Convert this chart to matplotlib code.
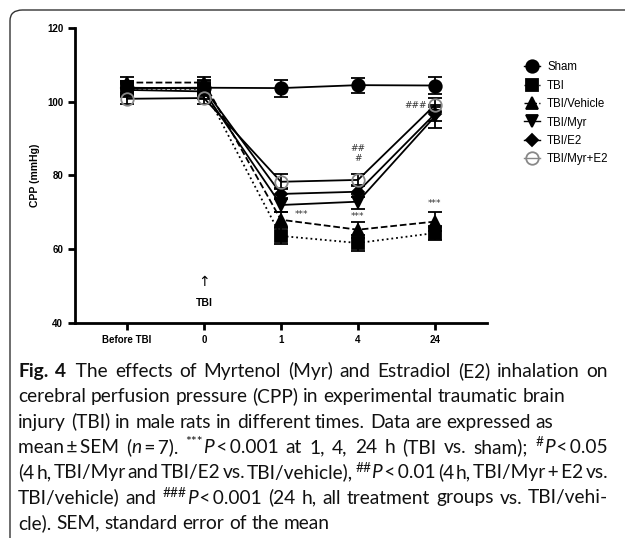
import re
import numpy as np
import matplotlib.pyplot as plt
from matplotlib.patches import FancyBboxPatch
from matplotlib.lines import Line2D

# data
times = ["Before TBI", "0", "1", "4", "24"]
groups = ["Sham", "TBI", "TBI/Vehicle", "TBI/Myr", "TBI/E2", "TBI/Myr+E2"]
sham = [103.7, 103.8, 103.7, 104.5, 104.4]
tbi = [103.5, 103.5, 63.6, 61.7, 64.4]
vehicle = [105.2, 105.2, 68.0, 65.3, 67.5]
myr = [103.2, 102.8, 72.0, 72.9, 96.0]
e2 = [103.8, 103.6, 75.0, 75.6, 96.7]
myr_e2 = [100.8, 101.0, 78.3, 78.8, 99.1]
sem_sham = [2.0, 2.0, 2.3, 2.0, 2.3]
sem_tbi = [2.0, 2.0, 2.2, 2.3, 2.0]
sem_vehicle = [1.5, 1.5, 2.0, 2.2, 2.5]
sem_myr = [2.0, 2.0, 2.0, 2.0, 3.2]
sem_e2 = [1.5, 1.5, 1.5, 1.5, 2.0]
sem_myr_e2 = [1.5, 1.5, 2.0, 1.5, 2.0]

means = [sham, tbi, vehicle, myr, e2, myr_e2]
sems = [sem_sham, sem_tbi, sem_vehicle, sem_myr, sem_e2, sem_myr_e2]
markers = ['o', 's', '^', 'v', 'D', 'o']
styles = ['-', ':', '--', '-', '-', '-']
msizes = [9, 8, 8, 8, 6.5, 9]

# caption: {b:..} bold, {i:..} italic, {s:..} superscript
T = "\u2009"
caption = [
    ("{b:Fig.} {b:4}\u2002The effects of Myrtenol (Myr) and Estradiol (E2) inhalation on", True),
    ("cerebral perfusion pressure (CPP) in experimental traumatic brain", False),
    ("injury (TBI) in male rats in different times. Data are expressed as", False),
    (f"mean{T}±{T}SEM ({{i:n}}{T}={T}7). {{s:***}}{{i:P}}{T}<{T}0.001 at 1, 4, 24 h (TBI vs. sham); {{s:#}}{{i:P}}{T}<{T}0.05", True),
    (f"(4 h, TBI/Myr and TBI/E2 vs. TBI/vehicle), {{s:##}}{{i:P}}{T}<{T}0.01 (4 h, TBI/Myr{T}+{T}E2 vs.", True),
    (f"TBI/vehicle) and {{s:###}}{{i:P}}{T}<{T}0.001 (24 h, all treatment groups vs. TBI/vehi-", True),
    ("cle). SEM, standard error of the mean", False),
]

W, H = 625, 538
fig = plt.figure(figsize=(W / 100, H / 100), dpi=100)

# rounded frame around figure + caption
frame = FancyBboxPatch((10 / W, -0.1), 1.2, 1 - 10 / H + 0.1,
                       boxstyle="round,pad=0,rounding_size=0.02",
                       transform=fig.transFigure, facecolor='none',
                       edgecolor='#333333', linewidth=1.0)
fig.patches.append(frame)

ax = fig.add_axes([0.12, 0.3996, 0.659, 0.5484])
x = np.arange(len(times))

handles = []
for name, m, s, mk, ls, ms in zip(groups, means, sems, markers, styles, msizes):
    if name == "TBI/Myr+E2":
        mfc, mec = 'none', '#888888'
    else:
        mfc, mec = 'black', 'black'
    ax.errorbar(x, m, yerr=s, color='black', linestyle=ls, linewidth=1.3,
                marker=mk, markersize=ms, markerfacecolor=mfc,
                markeredgecolor=mec, markeredgewidth=1.3,
                capsize=5, capthick=1.3, elinewidth=1.3)
    lc = '#888888' if name == "TBI/Myr+E2" else 'black'
    handles.append(Line2D([], [], color=lc, linestyle=ls, linewidth=1.0,
                          marker=mk, markersize=ms, markerfacecolor=mfc,
                          markeredgecolor=mec, markeredgewidth=1.3))

ax.set_xlim(-0.675, 4.675)
ax.set_ylim(40, 120)
ax.set_yticks([40, 60, 80, 100, 120])
ax.set_xticks(x)
ax.set_xticklabels(times)
for sp in ['top', 'right']:
    ax.spines[sp].set_visible(False)
for sp in ['left', 'bottom']:
    ax.spines[sp].set_linewidth(2)
ax.tick_params(width=2, length=5, labelsize=7)
for lab in ax.get_xticklabels() + ax.get_yticklabels():
    lab.set_fontweight('bold')
    lab.set_family('Liberation Sans')
ax.set_ylabel("CPP (mmHg)", fontsize=7.5, fontweight='bold',
              family='Liberation Sans', labelpad=5)

# TBI arrow
ax.text(1, 51, "\u2191", ha='center', va='center', fontsize=10,
        family='DejaVu Sans')
ax.text(1, 45.5, "TBI", ha='center', va='center', fontsize=7.5,
        fontweight='bold', family='Liberation Sans')

# significance marks
sig = dict(ha='center', va='center', fontsize=6.5, family='DejaVu Sans',
           color='#333333')
ax.text(2.27, 69.5, "***", **sig)
ax.text(3.0, 69.0, "***", **sig)
ax.text(4.0, 72.5, "***", **sig)
ax.text(3.0, 87.3, "##", **sig)
ax.text(3.0, 84.6, "#", **sig)
ax.text(3.75, 99.0, "###", **sig)

fig.legend(handles, groups, loc='upper left',
           bbox_to_anchor=(0.822, 0.905), frameon=False,
           prop={'family': 'Liberation Sans', 'size': 8.3},
           handlelength=1.4, handletextpad=0.6, labelspacing=0.55)

# caption layout (word-justified)
renderer = fig.canvas.get_renderer()
fam = ['Lato', 'DejaVu Sans']
fs = 13.8
x_left, x_right = 18, 608
y_first, dy = 372, 25.3


def run_props(style):
    p = dict(family=fam, fontsize=fs, color='#111111', va='baseline')
    if style == 'b':
        p['fontweight'] = 'bold'
    elif style == 'i':
        p['fontstyle'] = 'italic'
    elif style == 's':
        p['fontsize'] = fs * 0.72
    return p


def width(txt, style):
    t = fig.text(0, 0, txt, **run_props(style))
    w = t.get_window_extent(renderer).width
    t.remove()
    return w


def parse(word):
    out = []
    for st, tx, plain in re.findall(r'\{(\w):([^}]*)\}|([^{]+)', word):
        out.append(('n', plain) if plain else (st, tx))
    return out


space = width("a a", 'n') - width("aa", 'n')
for i, (line, justify) in enumerate(caption):
    words = [parse(w) for w in line.split(' ') if w]
    wws = [sum(width(tx, st) for st, tx in w) for w in words]
    gap = space
    if justify and len(words) > 1:
        gap = (x_right - x_left - sum(wws)) / (len(words) - 1)
    ybase = H - (y_first + i * dy) - 5
    xc = x_left
    for w, ww in zip(words, wws):
        for st, tx in w:
            yy = ybase + (6.5 if st == 's' else 0)
            fig.text(xc / W, yy / H, tx, ha='left', **run_props(st))
            xc += width(tx, st)
        xc += gap

fig.savefig("out.png", dpi=100)
